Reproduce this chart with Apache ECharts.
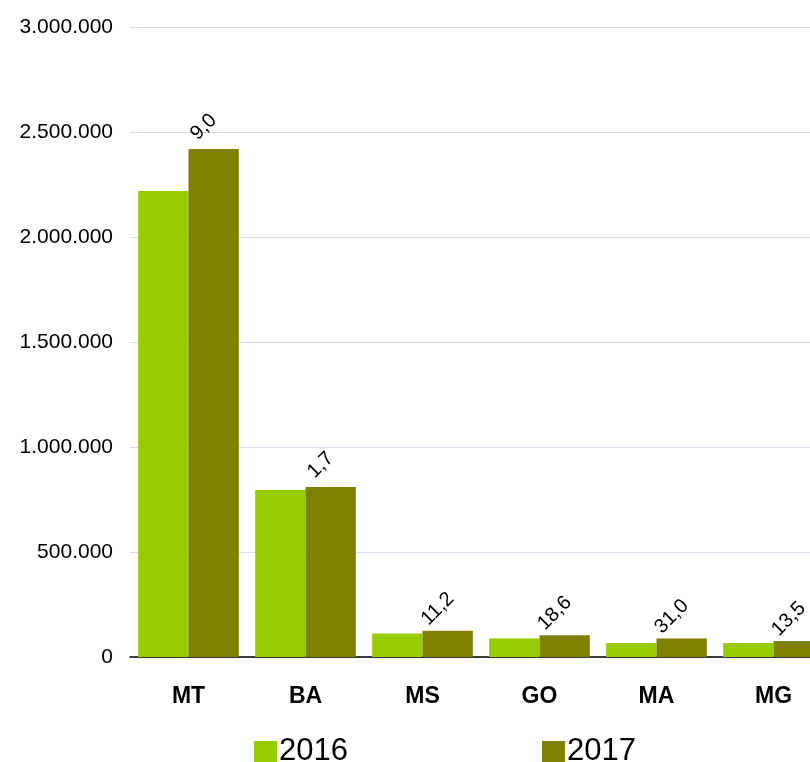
<!DOCTYPE html>
<html>
<head>
<meta charset="utf-8">
<script src="https://cdn.jsdelivr.net/npm/echarts@6/dist/echarts.min.js"></script>
<style>
  html, body { margin: 0; padding: 0; background: #fff; }
  #chart { width: 810px; height: 762px; }
</style>
</head>
<body>
<div id="chart"></div>
<script>
// estados e produção
const states = ['MT', 'BA', 'MS', 'GO', 'MA', 'MG'];
const years = ['2016', '2017'];
const values2016 = [2219000, 795000, 112000, 88000, 67000, 67000];
const values2017 = [2419000, 809000, 124500, 104000, 88000, 76000];
const growth = ['9,0', '1,7', '11,2', '18,6', '31,0', '13,5'];
const yTicks = [0, 500000, 1000000, 1500000, 2000000, 2500000, 3000000];

const COLORS = { y2016: '#99cc00', y2017: '#808000', grid: '#d9d9ef', text: '#000' };
const FONT = '"Liberation Sans", Arial, sans-serif';

const fmtThousands = (v) => String(v).replace(/\B(?=(\d{3})+(?!\d))/g, '.');

const chart = echarts.init(document.getElementById('chart'), null, { renderer: 'canvas' });

chart.setOption({
  backgroundColor: '#fff',
  animation: false,
  textStyle: { fontFamily: FONT },
  grid: { left: 130, width: 702, top: 27, bottom: 105, containLabel: false, outerBoundsMode: 'none' },
  legend: {
    data: years,
    bottom: -10,
    left: 249,
    itemWidth: 23,
    itemHeight: 21,
    itemGap: 194,
    icon: 'rect',
    textStyle: { color: COLORS.text, fontSize: 31, fontFamily: FONT, padding: [0, 0, 0, -3] },
  },
  xAxis: {
    type: 'category',
    data: states,
    axisTick: { show: false },
    axisLine: { lineStyle: { color: '#000', width: 1.5 } },
    axisLabel: { color: COLORS.text, fontSize: 23, fontWeight: 'bold', margin: 28, fontFamily: FONT },
  },
  yAxis: {
    type: 'value',
    min: yTicks[0],
    max: yTicks[yTicks.length - 1],
    interval: yTicks[1] - yTicks[0],
    axisLine: { show: false },
    axisTick: { show: false },
    splitLine: { lineStyle: { color: COLORS.grid, width: 1 } },
    axisLabel: { color: COLORS.text, fontSize: 21, margin: 17, formatter: fmtThousands, fontFamily: FONT },
  },
  series: [
    {
      name: years[0],
      type: 'bar',
      data: values2016,
      barGap: '0%',
      barCategoryGap: '14%',
      itemStyle: { color: COLORS.y2016 },
    },
    {
      name: years[1],
      type: 'bar',
      data: values2017,
      barGap: '0%',
      barCategoryGap: '14%',
      itemStyle: { color: COLORS.y2017 },
      label: {
        show: true,
        position: 'top',
        distance: 22,
        rotate: 45,
        offset: [-7, -7],
        align: 'center',
        verticalAlign: 'middle',
        color: COLORS.text,
        fontSize: 20,
        fontFamily: FONT,
        formatter: (p) => growth[p.dataIndex],
      },
    },
  ],
});
</script>
</body>
</html>
